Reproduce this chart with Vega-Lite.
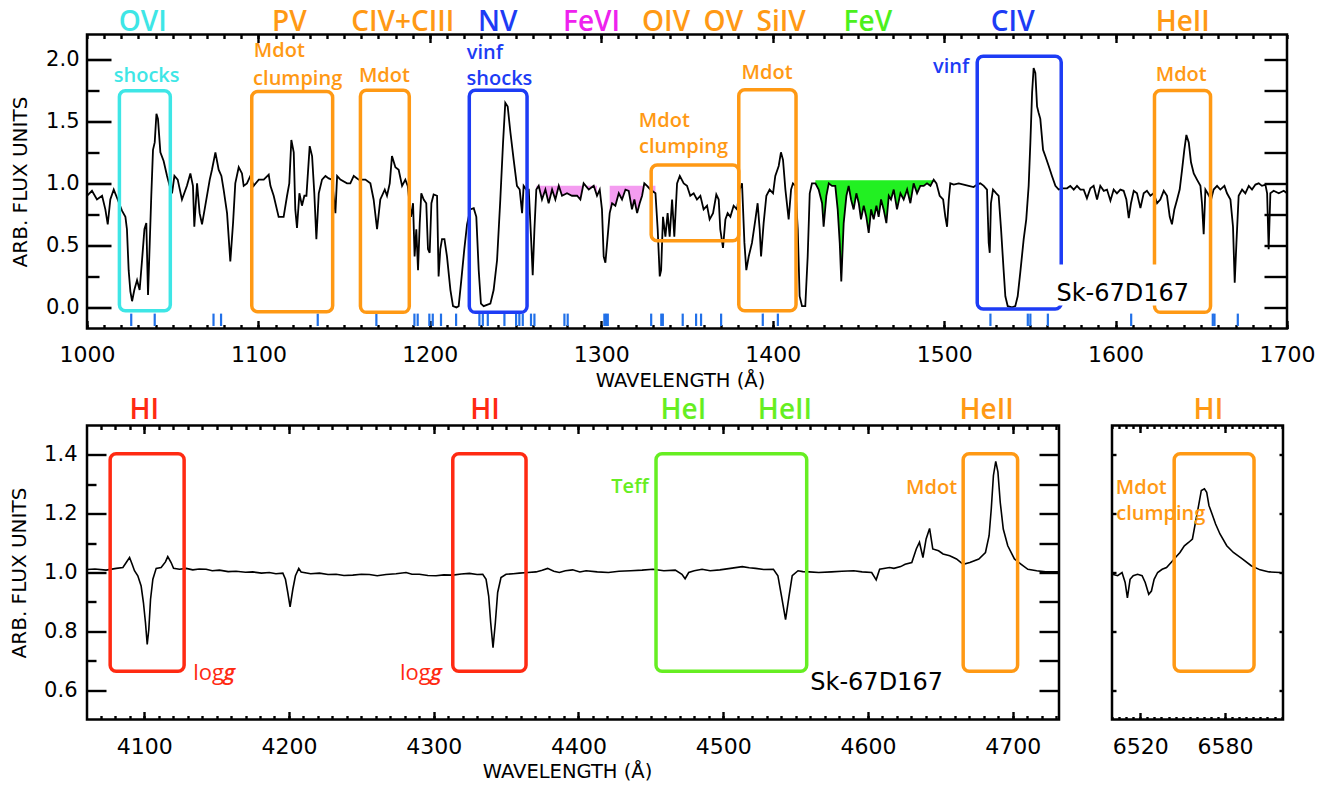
{
"$schema": "https://vega.github.io/schema/vega-lite/v6.json",
"padding": {"left": 7, "top": 7.5, "right": 5, "bottom": 5},
"background": "white",
"config": {
  "view": {"stroke": "black", "strokeWidth": 2.5},
  "axis": {"grid": false, "domain": false, "ticks": true, "tickOpacity": 1, "tickColor": "black", "tickWidth": 2.4, "labelFont": "DejaVu Sans", "labelColor": "black", "titleFont": "DejaVu Sans", "titleColor": "black", "titleFontWeight": "normal", "labelFlush": false, "labelOverlap": false}
},
"datasets": {
  "uv": [
{"w":1000.0,"f":0.90},{"w":1002.9,"f":0.94},{"w":1005.8,"f":0.87},{"w":1008.8,"f":0.90},{"w":1010.7,"f":0.79},{"w":1012.1,"f":0.67},{"w":1013.6,"f":0.87},{"w":1015.6,"f":0.95},{"w":1017.9,"f":0.87},{"w":1020.4,"f":0.78},{"w":1022.4,"f":0.73},{"w":1023.3,"f":0.63},{"w":1024.3,"f":0.30},{"w":1025.3,"f":0.13},{"w":1026.3,"f":0.05},{"w":1027.6,"f":0.14},{"w":1029.2,"f":0.22},{"w":1030.7,"f":0.14},{"w":1032.1,"f":0.38},{"w":1033.5,"f":0.63},{"w":1034.6,"f":0.68},{"w":1035.6,"f":0.10},{"w":1036.6,"f":0.52},{"w":1037.5,"f":0.90},{"w":1038.5,"f":1.27},{"w":1039.5,"f":1.33},{"w":1040.5,"f":1.56},{"w":1041.4,"f":1.52},{"w":1042.8,"f":1.25},{"w":1044.7,"f":1.18},{"w":1046.7,"f":1.06},{"w":1048.2,"f":0.98},{"w":1049.6,"f":0.92},{"w":1051.0,"f":1.06},{"w":1052.9,"f":1.03},{"w":1055.4,"f":0.87},{"w":1058.3,"f":0.98},{"w":1060.3,"f":1.08},{"w":1061.8,"f":0.98},{"w":1062.6,"f":0.65},{"w":1064.2,"f":1.00},{"w":1065.7,"f":0.76},{"w":1067.1,"f":0.67},{"w":1069.0,"f":0.82},{"w":1071.6,"f":1.03},{"w":1072.9,"f":1.11},{"w":1074.9,"f":1.25},{"w":1076.8,"f":1.11},{"w":1078.4,"f":1.06},{"w":1079.7,"f":0.95},{"w":1081.7,"f":0.76},{"w":1083.6,"f":0.37},{"w":1085.2,"f":0.68},{"w":1086.5,"f":1.00},{"w":1088.5,"f":1.13},{"w":1090.4,"f":1.08},{"w":1091.4,"f":0.98},{"w":1093.3,"f":1.00},{"w":1095.3,"f":1.06},{"w":1097.2,"f":0.98},{"w":1100.2,"f":1.03},{"w":1103.1,"f":1.03},{"w":1106.0,"f":1.07},{"w":1107.0,"f":0.98},{"w":1108.9,"f":0.90},{"w":1111.8,"f":0.73},{"w":1114.7,"f":0.73},{"w":1116.7,"f":0.90},{"w":1118.0,"f":1.00},{"w":1119.2,"f":1.35},{"w":1120.6,"f":1.25},{"w":1121.5,"f":0.79},{"w":1122.5,"f":0.64},{"w":1123.9,"f":0.92},{"w":1125.4,"f":0.82},{"w":1126.8,"f":0.90},{"w":1128.0,"f":0.90},{"w":1129.9,"f":1.30},{"w":1131.3,"f":1.22},{"w":1132.6,"f":0.92},{"w":1133.8,"f":0.55},{"w":1135.2,"f":0.92},{"w":1137.1,"f":1.03},{"w":1139.1,"f":1.06},{"w":1141.0,"f":1.04},{"w":1142.9,"f":1.03},{"w":1144.9,"f":0.76},{"w":1145.9,"f":1.06},{"w":1147.8,"f":1.03},{"w":1151.7,"f":1.00},{"w":1153.6,"f":1.00},{"w":1155.6,"f":1.06},{"w":1158.5,"f":1.03},{"w":1162.4,"f":1.03},{"w":1165.3,"f":1.00},{"w":1167.2,"f":0.87},{"w":1169.2,"f":0.63},{"w":1171.1,"f":0.87},{"w":1173.7,"f":0.95},{"w":1175.0,"f":0.90},{"w":1176.6,"f":1.00},{"w":1177.9,"f":1.22},{"w":1179.9,"f":1.13},{"w":1181.8,"f":1.11},{"w":1183.8,"f":0.98},{"w":1185.7,"f":1.03},{"w":1187.1,"f":0.98},{"w":1189.0,"f":0.73},{"w":1190.2,"f":0.84},{"w":1191.1,"f":0.41},{"w":1192.1,"f":0.63},{"w":1193.1,"f":0.30},{"w":1194.1,"f":0.68},{"w":1195.0,"f":0.92},{"w":1196.4,"f":0.87},{"w":1197.9,"f":0.84},{"w":1198.9,"f":0.47},{"w":1199.9,"f":0.44},{"w":1200.9,"f":0.84},{"w":1202.2,"f":0.91},{"w":1204.2,"f":0.90},{"w":1205.1,"f":0.25},{"w":1206.1,"f":0.47},{"w":1207.1,"f":0.55},{"w":1208.5,"f":0.55},{"w":1210.0,"f":0.41},{"w":1212.0,"f":0.14},{"w":1213.5,"f":0.01},{"w":1215.5,"f":0.00},{"w":1216.8,"f":0.01},{"w":1218.2,"f":0.20},{"w":1220.1,"f":0.47},{"w":1221.7,"f":0.67},{"w":1223.6,"f":0.79},{"w":1225.6,"f":0.80},{"w":1227.1,"f":0.73},{"w":1228.5,"f":0.30},{"w":1229.8,"f":0.03},{"w":1231.4,"f":0.01},{"w":1233.3,"f":0.02},{"w":1235.3,"f":0.03},{"w":1237.2,"f":0.14},{"w":1239.2,"f":0.38},{"w":1241.1,"f":0.87},{"w":1242.7,"f":1.33},{"w":1244.0,"f":1.65},{"w":1245.4,"f":1.62},{"w":1247.0,"f":1.41},{"w":1248.9,"f":1.19},{"w":1250.8,"f":0.98},{"w":1252.4,"f":0.95},{"w":1253.8,"f":0.76},{"w":1254.7,"f":0.98},{"w":1256.3,"f":0.95},{"w":1257.7,"f":0.95},{"w":1259.0,"f":0.57},{"w":1260.0,"f":0.26},{"w":1261.0,"f":0.63},{"w":1262.1,"f":0.95},{"w":1263.5,"f":0.98},{"w":1265.4,"f":0.87},{"w":1267.4,"f":0.95},{"w":1269.3,"f":0.84},{"w":1271.3,"f":0.95},{"w":1273.2,"f":0.87},{"w":1275.2,"f":0.98},{"w":1277.1,"f":0.90},{"w":1280.0,"f":0.92},{"w":1282.9,"f":0.90},{"w":1285.9,"f":0.90},{"w":1287.8,"f":0.87},{"w":1289.7,"f":1.00},{"w":1292.7,"f":0.95},{"w":1295.6,"f":0.98},{"w":1297.5,"f":0.90},{"w":1299.1,"f":0.95},{"w":1300.4,"f":0.79},{"w":1301.4,"f":0.41},{"w":1302.4,"f":0.36},{"w":1303.4,"f":0.52},{"w":1304.9,"f":0.76},{"w":1306.3,"f":0.84},{"w":1308.2,"f":0.82},{"w":1310.2,"f":0.92},{"w":1312.1,"f":0.87},{"w":1314.1,"f":0.95},{"w":1316.0,"f":0.94},{"w":1317.9,"f":0.79},{"w":1319.3,"f":0.87},{"w":1320.9,"f":0.76},{"w":1322.4,"f":0.84},{"w":1323.8,"f":0.90},{"w":1325.1,"f":1.00},{"w":1326.7,"f":0.98},{"w":1328.6,"f":0.95},{"w":1331.6,"f":0.92},{"w":1332.9,"f":0.63},{"w":1334.1,"f":0.25},{"w":1334.9,"f":0.30},{"w":1336.0,"f":0.73},{"w":1337.4,"f":0.57},{"w":1338.7,"f":0.76},{"w":1339.9,"f":0.57},{"w":1341.3,"f":0.87},{"w":1342.6,"f":0.57},{"w":1344.2,"f":1.00},{"w":1345.8,"f":1.06},{"w":1348.1,"f":1.00},{"w":1350.0,"f":0.98},{"w":1351.9,"f":0.90},{"w":1353.9,"f":0.92},{"w":1355.8,"f":0.87},{"w":1357.8,"f":0.90},{"w":1359.7,"f":0.79},{"w":1361.7,"f":0.82},{"w":1363.2,"f":0.71},{"w":1365.2,"f":0.76},{"w":1367.1,"f":0.91},{"w":1368.5,"f":0.87},{"w":1369.4,"f":0.63},{"w":1371.0,"f":0.48},{"w":1372.4,"f":0.71},{"w":1373.7,"f":0.76},{"w":1375.3,"f":0.73},{"w":1377.2,"f":0.82},{"w":1379.2,"f":0.79},{"w":1380.7,"f":0.95},{"w":1382.1,"f":1.00},{"w":1383.5,"f":0.52},{"w":1384.6,"f":0.30},{"w":1386.0,"f":0.41},{"w":1387.9,"f":0.52},{"w":1389.9,"f":0.71},{"w":1391.2,"f":0.84},{"w":1392.4,"f":0.63},{"w":1393.2,"f":0.41},{"w":1394.7,"f":0.68},{"w":1396.3,"f":0.90},{"w":1398.2,"f":0.95},{"w":1400.2,"f":0.92},{"w":1401.5,"f":1.06},{"w":1403.5,"f":1.14},{"w":1404.8,"f":1.25},{"w":1406.0,"f":1.19},{"w":1407.4,"f":0.95},{"w":1409.3,"f":0.71},{"w":1410.7,"f":0.95},{"w":1411.8,"f":1.00},{"w":1413.2,"f":0.98},{"w":1414.6,"f":0.63},{"w":1415.7,"f":0.09},{"w":1417.1,"f":0.01},{"w":1419.0,"f":0.01},{"w":1420.4,"f":0.41},{"w":1421.6,"f":0.92},{"w":1422.9,"f":1.00},{"w":1424.9,"f":1.00},{"w":1426.8,"f":0.95},{"w":1428.8,"f":0.84},{"w":1429.7,"f":0.65},{"w":1431.3,"f":0.90},{"w":1432.7,"f":1.00},{"w":1434.6,"f":0.98},{"w":1436.5,"f":0.98},{"w":1437.9,"f":0.79},{"w":1439.1,"f":0.52},{"w":1440.0,"f":0.21},{"w":1441.4,"f":0.68},{"w":1443.0,"f":0.90},{"w":1444.3,"f":0.98},{"w":1445.7,"f":0.87},{"w":1447.2,"f":0.79},{"w":1448.8,"f":0.92},{"w":1450.2,"f":0.84},{"w":1451.5,"f":0.71},{"w":1453.1,"f":0.82},{"w":1454.6,"f":0.73},{"w":1456.0,"f":0.60},{"w":1457.4,"f":0.79},{"w":1458.9,"f":0.71},{"w":1460.5,"f":0.82},{"w":1461.8,"f":0.73},{"w":1463.2,"f":0.87},{"w":1464.7,"f":0.79},{"w":1466.3,"f":0.68},{"w":1467.7,"f":0.90},{"w":1469.0,"f":0.87},{"w":1470.6,"f":0.95},{"w":1472.5,"f":0.79},{"w":1474.5,"f":0.92},{"w":1476.4,"f":0.87},{"w":1478.4,"f":0.95},{"w":1480.3,"f":0.84},{"w":1482.2,"f":1.00},{"w":1484.2,"f":0.92},{"w":1486.1,"f":0.98},{"w":1488.1,"f":0.98},{"w":1490.0,"f":1.00},{"w":1492.0,"f":0.98},{"w":1493.9,"f":1.03},{"w":1495.5,"f":1.00},{"w":1497.4,"f":0.90},{"w":1499.4,"f":0.87},{"w":1500.7,"f":0.73},{"w":1501.7,"f":0.65},{"w":1502.7,"f":0.87},{"w":1503.6,"f":1.00},{"w":1505.6,"f":0.99},{"w":1508.5,"f":1.00},{"w":1511.4,"f":0.99},{"w":1514.3,"f":0.98},{"w":1517.2,"f":0.97},{"w":1519.2,"f":0.99},{"w":1521.1,"f":1.00},{"w":1523.1,"f":0.98},{"w":1525.0,"f":0.95},{"w":1526.0,"f":0.52},{"w":1526.6,"f":0.44},{"w":1527.3,"f":0.84},{"w":1528.5,"f":0.95},{"w":1530.4,"f":0.92},{"w":1531.8,"f":0.90},{"w":1533.2,"f":0.63},{"w":1534.7,"f":0.30},{"w":1535.7,"f":0.09},{"w":1537.1,"f":0.01},{"w":1539.6,"f":0.00},{"w":1541.5,"f":0.01},{"w":1542.9,"f":0.09},{"w":1544.4,"f":0.28},{"w":1546.4,"f":0.55},{"w":1547.9,"f":0.71},{"w":1549.3,"f":0.98},{"w":1550.3,"f":1.33},{"w":1551.3,"f":1.73},{"w":1552.2,"f":1.93},{"w":1553.2,"f":1.89},{"w":1554.2,"f":1.62},{"w":1555.1,"f":1.57},{"w":1556.1,"f":1.52},{"w":1557.7,"f":1.27},{"w":1559.0,"f":1.22},{"w":1561.0,"f":1.14},{"w":1562.9,"f":1.06},{"w":1564.9,"f":0.98},{"w":1566.8,"f":0.95},{"w":1568.8,"f":0.96},{"w":1571.7,"f":0.96},{"w":1573.6,"f":0.98},{"w":1575.6,"f":0.95},{"w":1577.5,"f":0.98},{"w":1579.5,"f":0.95},{"w":1581.4,"f":0.95},{"w":1583.3,"f":0.88},{"w":1585.3,"f":0.96},{"w":1587.2,"f":0.98},{"w":1589.2,"f":0.87},{"w":1591.1,"f":0.98},{"w":1593.1,"f":0.94},{"w":1595.0,"f":0.95},{"w":1597.0,"f":0.86},{"w":1598.9,"f":0.95},{"w":1600.8,"f":0.92},{"w":1602.8,"f":0.95},{"w":1604.7,"f":0.94},{"w":1606.3,"f":0.87},{"w":1607.7,"f":0.72},{"w":1609.0,"f":0.84},{"w":1610.6,"f":0.94},{"w":1612.5,"f":0.92},{"w":1614.5,"f":0.80},{"w":1616.4,"f":0.92},{"w":1618.3,"f":0.94},{"w":1620.3,"f":0.90},{"w":1622.2,"f":0.92},{"w":1624.2,"f":0.84},{"w":1626.1,"f":0.87},{"w":1628.1,"f":0.94},{"w":1630.0,"f":0.90},{"w":1631.6,"f":0.73},{"w":1632.9,"f":0.67},{"w":1634.3,"f":0.79},{"w":1635.9,"f":0.87},{"w":1637.4,"f":0.95},{"w":1638.8,"f":1.11},{"w":1640.1,"f":1.27},{"w":1641.3,"f":1.39},{"w":1642.7,"f":1.33},{"w":1644.0,"f":1.17},{"w":1645.6,"f":1.08},{"w":1647.5,"f":1.03},{"w":1649.5,"f":0.98},{"w":1650.4,"f":0.84},{"w":1651.4,"f":0.59},{"w":1652.4,"f":0.95},{"w":1653.7,"f":0.92},{"w":1655.7,"f":0.87},{"w":1657.2,"f":0.95},{"w":1659.2,"f":0.98},{"w":1661.1,"f":0.95},{"w":1663.5,"f":0.98},{"w":1665.0,"f":0.92},{"w":1667.0,"f":0.87},{"w":1668.5,"f":0.65},{"w":1669.5,"f":0.20},{"w":1670.5,"f":0.52},{"w":1671.8,"f":0.90},{"w":1673.8,"f":0.95},{"w":1675.7,"f":0.92},{"w":1677.7,"f":0.98},{"w":1679.6,"f":0.95},{"w":1681.6,"f":0.99},{"w":1683.5,"f":1.00},{"w":1685.4,"f":0.98},{"w":1687.4,"f":0.99},{"w":1688.4,"f":0.92},{"w":1689.3,"f":0.47},{"w":1690.3,"f":0.92},{"w":1692.2,"f":0.94},{"w":1695.2,"f":0.92},{"w":1698.1,"f":0.94},{"w":1700.0,"f":0.92}
  ],
  "opt": [
{"w":4060.5,"f":1.010},{"w":4066,"f":1.012},{"w":4073.7,"f":1.008},{"w":4080.7,"f":1.014},{"w":4085.3,"f":1.017},{"w":4087.6,"f":1.034},{"w":4089.9,"f":1.051},{"w":4091.7,"f":1.028},{"w":4093.3,"f":1.006},{"w":4095.6,"f":0.989},{"w":4097.9,"f":0.954},{"w":4099.5,"f":0.897},{"w":4100.9,"f":0.829},{"w":4102.1,"f":0.755},{"w":4103.2,"f":0.806},{"w":4104.4,"f":0.909},{"w":4106.0,"f":0.977},{"w":4108.3,"f":1.014},{"w":4111.7,"f":1.017},{"w":4114.7,"f":1.036},{"w":4116.3,"f":1.054},{"w":4118.6,"f":1.034},{"w":4120.3,"f":1.014},{"w":4124.4,"f":1.011},{"w":4129,"f":1.014},{"w":4133.6,"f":1.009},{"w":4138,"f":1.012},{"w":4142.8,"f":1.011},{"w":4147,"f":1.006},{"w":4152.0,"f":1.008},{"w":4158,"f":1.003},{"w":4163.5,"f":1.004},{"w":4170,"f":1.001},{"w":4175.0,"f":1.002},{"w":4181,"f":0.998},{"w":4186.5,"f":1.000},{"w":4191,"f":0.996},{"w":4195.8,"f":0.998},{"w":4197.6,"f":0.977},{"w":4199.2,"f":0.932},{"w":4200.8,"f":0.883},{"w":4202.7,"f":0.943},{"w":4204.5,"f":0.989},{"w":4206.8,"f":1.014},{"w":4208.4,"f":1.002},{"w":4215,"f":0.996},{"w":4221.1,"f":0.998},{"w":4227,"f":0.993},{"w":4232.6,"f":0.994},{"w":4238,"f":0.990},{"w":4244.1,"f":0.991},{"w":4250,"f":0.994},{"w":4255.6,"f":0.993},{"w":4261,"f":0.989},{"w":4267.1,"f":0.993},{"w":4274,"f":0.996},{"w":4280.9,"f":1.000},{"w":4285,"f":0.994},{"w":4290.1,"f":0.994},{"w":4296,"f":0.990},{"w":4301.6,"f":0.989},{"w":4307,"f":0.992},{"w":4313.2,"f":0.991},{"w":4319,"f":0.995},{"w":4324.7,"f":0.997},{"w":4330,"f":0.993},{"w":4333.9,"f":0.994},{"w":4336.2,"f":0.977},{"w":4338.0,"f":0.920},{"w":4339.4,"f":0.829},{"w":4341.0,"f":0.744},{"w":4342.6,"f":0.829},{"w":4344.2,"f":0.932},{"w":4346.5,"f":0.983},{"w":4350.0,"f":0.994},{"w":4355,"f":0.996},{"w":4359.2,"f":0.998},{"w":4365,"f":1.000},{"w":4370.7,"f":1.002},{"w":4375,"f":1.008},{"w":4378.7,"f":1.014},{"w":4383,"f":1.004},{"w":4386.8,"f":1.000},{"w":4391,"f":1.006},{"w":4396.0,"f":1.009},{"w":4401,"f":1.002},{"w":4405.3,"f":1.006},{"w":4413,"f":1.002},{"w":4420.7,"f":1.000},{"w":4428,"f":1.004},{"w":4436.1,"f":1.006},{"w":4444,"f":1.008},{"w":4451.5,"f":1.011},{"w":4459,"f":1.006},{"w":4466.9,"f":1.008},{"w":4471.5,"f":0.994},{"w":4473.7,"f":0.979},{"w":4476.2,"f":1.000},{"w":4480,"f":1.006},{"w":4485.4,"f":1.011},{"w":4491,"f":1.006},{"w":4497.7,"f":1.009},{"w":4505,"f":1.014},{"w":4513.2,"f":1.020},{"w":4518,"f":1.016},{"w":4522.4,"f":1.014},{"w":4528,"f":1.010},{"w":4534.7,"f":1.011},{"w":4537.8,"f":0.989},{"w":4540.3,"f":0.920},{"w":4543.1,"f":0.840},{"w":4545.5,"f":0.920},{"w":4547.7,"f":0.989},{"w":4551.7,"f":1.006},{"w":4555,"f":1.003},{"w":4559.4,"f":1.002},{"w":4566,"f":1.000},{"w":4574.8,"f":1.002},{"w":4582,"f":1.004},{"w":4590.2,"f":1.006},{"w":4596,"f":1.002},{"w":4602.6,"f":1.000},{"w":4605.7,"f":0.975},{"w":4608.1,"f":1.011},{"w":4614.9,"f":1.017},{"w":4618,"f":1.014},{"w":4622.6,"f":1.020},{"w":4625.7,"f":1.028},{"w":4630.3,"f":1.034},{"w":4633.4,"f":1.080},{"w":4635.6,"f":1.103},{"w":4638.0,"f":1.051},{"w":4640.2,"f":1.114},{"w":4642.6,"f":1.150},{"w":4644.8,"f":1.080},{"w":4648.8,"f":1.074},{"w":4651.9,"f":1.063},{"w":4656.5,"f":1.057},{"w":4661.2,"f":1.046},{"w":4665.8,"f":1.028},{"w":4670.4,"f":1.034},{"w":4676.6,"f":1.046},{"w":4681.2,"f":1.068},{"w":4683.7,"f":1.125},{"w":4685.2,"f":1.216},{"w":4686.7,"f":1.330},{"w":4688.3,"f":1.378},{"w":4689.8,"f":1.342},{"w":4691.4,"f":1.239},{"w":4693.5,"f":1.148},{"w":4696.6,"f":1.091},{"w":4701.2,"f":1.046},{"w":4705.9,"f":1.028},{"w":4710.5,"f":1.011},{"w":4716.6,"f":1.006},{"w":4722.8,"f":1.002},{"w":4731.9,"f":1.002}
  ],
  "ha": [
{"w":6500.2,"f":0.994},{"w":6504.0,"f":0.989},{"w":6507.1,"f":1.000},{"w":6509.3,"f":0.966},{"w":6510.9,"f":0.914},{"w":6512.8,"f":0.977},{"w":6515.0,"f":0.989},{"w":6518.1,"f":0.994},{"w":6521.3,"f":0.989},{"w":6523.5,"f":0.966},{"w":6526.0,"f":0.926},{"w":6527.9,"f":0.937},{"w":6529.8,"f":0.977},{"w":6532.3,"f":1.000},{"w":6535.5,"f":1.011},{"w":6538.6,"f":1.017},{"w":6541.8,"f":1.034},{"w":6544.9,"f":1.051},{"w":6548.1,"f":1.068},{"w":6551.2,"f":1.091},{"w":6554.4,"f":1.103},{"w":6556.9,"f":1.114},{"w":6559.1,"f":1.171},{"w":6561.3,"f":1.228},{"w":6563.2,"f":1.279},{"w":6565.4,"f":1.285},{"w":6567.0,"f":1.273},{"w":6568.6,"f":1.228},{"w":6570.8,"f":1.199},{"w":6573.3,"f":1.165},{"w":6576.4,"f":1.131},{"w":6581.2,"f":1.091},{"w":6585.9,"f":1.068},{"w":6592.2,"f":1.046},{"w":6598.5,"f":1.023},{"w":6604.8,"f":1.009},{"w":6611.2,"f":1.002},{"w":6619.0,"f":1.000}
  ],
  "lineIds": [
{"w":1025.8},{"w":1039.5},{"w":1073.8},{"w":1078.2},{"w":1134.6},{"w":1168.8},{"w":1191.0},{"w":1192.9},{"w":1199.7},{"w":1201.7},{"w":1206.5},{"w":1215.3},{"w":1228.9},{"w":1230.9},{"w":1233.8},{"w":1243.5},{"w":1250.3},{"w":1252.2},{"w":1254.2},{"w":1259.0},{"w":1261.0},{"w":1278.5},{"w":1280.4},{"w":1301.8},{"w":1302.8},{"w":1303.8},{"w":1329.1},{"w":1335.0},{"w":1335.9},{"w":1347.5},{"w":1355.3},{"w":1358.2},{"w":1369.9},{"w":1394.2},{"w":1403.0},{"w":1527.0},{"w":1548.8},{"w":1550.3},{"w":1560.5},{"w":1609.1},{"w":1656.7},{"w":1657.7},{"w":1671.3}
  ],
  "boxTop": [
{"w1":1018.9,"w2":1048.6,"f1":-0.027,"f2":1.746,"d":"shocks"},
{"w1":1096.1,"w2":1143.3,"f1":-0.035,"f2":1.74,"d":"mdot"},
{"w1":1159.5,"w2":1188.0,"f1":-0.04,"f2":1.75,"d":"mdot"},
{"w1":1223.0,"w2":1256.7,"f1":-0.04,"f2":1.75,"d":"vinf"},
{"w1":1329.1,"w2":1380.2,"f1":0.538,"f2":1.148,"d":"mdot"},
{"w1":1380.2,"w2":1413.6,"f1":-0.027,"f2":1.755,"d":"mdot"},
{"w1":1519.3,"w2":1568.3,"f1":-0.013,"f2":2.024,"d":"vinf"},
{"w1":1622.7,"w2":1655.4,"f1":-0.04,"f2":1.748,"d":"mdot"}
  ],
  "maskTop": [{"w1":1565.5,"w2":1625.5,"f1":0.015,"f2":0.345}],
  "labTop": [
{"w":1032.5,"f":2.29,"t":"OVI","d":"shocks"},
{"w":1118.0,"f":2.29,"t":"PV","d":"mdot"},
{"w":1184.2,"f":2.29,"t":"CIV+CIII","d":"mdot"},
{"w":1239.6,"f":2.29,"t":"NV","d":"vinf"},
{"w":1294.3,"f":2.29,"t":"FeVI","d":"fe6"},
{"w":1337.8,"f":2.29,"t":"OIV","d":"mdot"},
{"w":1371.2,"f":2.29,"t":"OV","d":"mdot"},
{"w":1404.9,"f":2.29,"t":"SiIV","d":"mdot"},
{"w":1455.5,"f":2.29,"t":"FeV","d":"fe5"},
{"w":1540.0,"f":2.29,"t":"CIV","d":"vinf"},
{"w":1639.2,"f":2.29,"t":"HeII","d":"mdot"}
  ],
  "noteTop": [
{"w":1034.8,"f":1.863,"t":"shocks","d":"shocks"},
{"w":1112.2,"f":2.065,"t":"Mdot","d":"mdot"},
{"w":1122.9,"f":1.845,"t":"clumping","d":"mdot"},
{"w":1173.5,"f":1.863,"t":"Mdot","d":"mdot"},
{"w":1232.1,"f":2.05,"t":"vinf","d":"vinf"},
{"w":1240.6,"f":1.841,"t":"shocks","d":"vinf"},
{"w":1336.8,"f":1.505,"t":"Mdot","d":"mdot"},
{"w":1348.0,"f":1.29,"t":"clumping","d":"mdot"},
{"w":1396.7,"f":1.887,"t":"Mdot","d":"mdot"},
{"w":1504.1,"f":1.94,"t":"vinf","d":"vinf"},
{"w":1638.3,"f":1.873,"t":"Mdot","d":"mdot"}
  ],
  "starTop": [{"w":1604.2,"f":0.107,"t":"Sk-67D167"}],
  "boxBot": [
{"w1":4076.5,"w2":4127.6,"f1":0.664,"f2":1.404,"d":"logg"},
{"w1":4313.2,"w2":4363.8,"f1":0.664,"f2":1.404,"d":"logg"},
{"w1":4453.6,"w2":4557.7,"f1":0.664,"f2":1.404,"d":"teff"},
{"w1":4665.8,"w2":4703.4,"f1":0.664,"f2":1.404,"d":"mdot"}
  ],
  "labBot": [
{"w":4100.0,"f":1.548,"t":"HI","d":"logg"},
{"w":4335.5,"f":1.548,"t":"HI","d":"logg"},
{"w":4472.5,"f":1.548,"t":"HeI","d":"teff"},
{"w":4542.7,"f":1.548,"t":"HeII","d":"teff"},
{"w":4682.0,"f":1.548,"t":"HeII","d":"mdot"}
  ],
  "noteBot": [
{"w":4435.6,"f":1.291,"t":"Teff","d":"teff"},
{"w":4644.0,"f":1.287,"t":"Mdot","d":"mdot"}
  ],
  "logBot": [{"w":4144.5,"f":0.658,"t":"log","d":"logg"},{"w":4287.3,"f":0.658,"t":"log","d":"logg"}],
  "gBot": [{"w":4158.8,"f":0.658,"t":"g","d":"logg"},{"w":4301.6,"f":0.658,"t":"g","d":"logg"}],
  "starBot": [{"w":4606,"f":0.624,"t":"Sk-67D167"}],
  "boxHa": [{"w1":6544.0,"w2":6600.5,"f1":0.664,"f2":1.404,"d":"mdot"}],
  "labHa": [{"w":6568.2,"f":1.548,"t":"HI","d":"mdot"}],
  "noteHa": [{"w":6520.7,"f":1.287,"t":"Mdot","d":"mdot"},{"w":6534.5,"f":1.2,"t":"clumping","d":"mdot"}]
},
"bounds": "flush",
"spacing": 97,
"vconcat": [
{
  "width": 1200, "height": 294,
  "resolve": {"axis": {"x": "independent", "y": "independent"}},
  "layer": [
    {"data": {"name": "uv"}, "transform": [{"filter": "datum.w >= 1262 && datum.w <= 1299"}],
     "mark": {"type": "area", "color": "#f49cf0"},
     "encoding": {
       "x": {"field": "w", "type": "quantitative", "scale": {"domain": [1000, 1700], "nice": false, "zero": false}, "axis": {"orient": "bottom", "tickCount": 70, "labels": false, "tickSize": 4, "offset": -4, "title": null}},
       "y": {"field": "f", "type": "quantitative", "scale": {"domain": [-0.17, 2.2], "nice": false, "zero": false}, "axis": {"orient": "left", "values": [0.25, 0.75, 1.25, 1.75], "labels": false, "tickSize": 12, "offset": -12, "title": null}},
       "y2": {"datum": 0.98}}},
    {"data": {"name": "uv"}, "transform": [{"filter": "datum.w >= 1304 && datum.w <= 1332"}],
     "mark": {"type": "area", "color": "#f49cf0"},
     "encoding": {
       "x": {"field": "w", "type": "quantitative", "axis": {"orient": "top", "values": [1100, 1200, 1300, 1400, 1500, 1600], "labels": false, "tickSize": 8, "offset": -8, "title": null}},
       "y": {"field": "f", "type": "quantitative", "axis": {"orient": "right", "values": [0, 0.25, 0.5, 0.75, 1, 1.25, 1.5, 1.75, 2], "labels": false, "tickSize": 23, "offset": -23, "title": null}},
       "y2": {"datum": 0.98}}},
    {"data": {"name": "uv"}, "transform": [{"filter": "datum.w >= 1423 && datum.w <= 1495"}],
     "mark": {"type": "area", "color": "#22f022"},
     "encoding": {
       "x": {"field": "w", "type": "quantitative", "axis": {"orient": "top", "tickCount": 70, "labels": false, "tickSize": 4, "offset": -4, "title": null}},
       "y": {"field": "f", "type": "quantitative", "axis": null},
       "y2": {"datum": 1.026}}},
    {"data": {"name": "uv"},
     "mark": {"type": "line", "color": "black", "strokeWidth": 1.8},
     "encoding": {
       "x": {"field": "w", "type": "quantitative", "axis": {"orient": "bottom", "values": [1000, 1100, 1200, 1300, 1400, 1500, 1600, 1700], "format": "d", "tickSize": 8, "offset": -8, "labelPadding": 25.7, "labelBaseline": "middle", "labelFontSize": 22, "title": "WAVELENGTH (Å)", "titleFontSize": 19.5, "titleX": 593, "titleY": 60, "titleBaseline": "middle", "titleAlign": "center"}},
       "y": {"field": "f", "type": "quantitative", "axis": {"orient": "left", "values": [0, 0.5, 1, 1.5, 2], "format": ".1f", "tickSize": 24, "offset": -24, "tickWidth": 2.6, "labelPadding": 8, "labelFontSize": 21, "labelBaseline": "middle", "title": "ARB. FLUX UNITS", "titleFontSize": 20, "titleX": -91, "titleY": 147, "titleAngle": -90, "titleBaseline": "middle", "titleAlign": "center"}}}},
    {"data": {"name": "lineIds"},
     "mark": {"type": "rule", "color": "#2170e8", "strokeWidth": 2.2},
     "encoding": {
       "x": {"field": "w", "type": "quantitative", "axis": null},
       "y": {"datum": -0.05, "type": "quantitative", "axis": null}, "y2": {"datum": -0.15}}},
    {"data": {"name": "boxTop"},
     "mark": {"type": "rect", "filled": false, "strokeWidth": 3.5, "cornerRadius": 6},
     "encoding": {
       "x": {"field": "w1", "type": "quantitative", "axis": null}, "x2": {"field": "w2"},
       "y": {"field": "f1", "type": "quantitative", "axis": null}, "y2": {"field": "f2"},
       "color": {"field": "d", "type": "nominal", "legend": null, "scale": {"domain": ["shocks","mdot","vinf","fe6","fe5","logg","teff"], "range": ["#3ee6e6","#ff9914","#1d3cf5","#ee22ee","#4cf01c","#ff2a12","#66ee22"]}}}},
    {"data": {"name": "maskTop"},
     "mark": {"type": "rect", "color": "white"},
     "encoding": {
       "x": {"field": "w1", "type": "quantitative", "axis": null}, "x2": {"field": "w2"},
       "y": {"field": "f1", "type": "quantitative", "axis": null}, "y2": {"field": "f2"}}},
    {"data": {"name": "starTop"},
     "mark": {"type": "text", "font": "DejaVu Sans", "fontSize": 24, "color": "black", "baseline": "middle", "align": "center"},
     "encoding": {
       "x": {"field": "w", "type": "quantitative", "axis": null},
       "y": {"field": "f", "type": "quantitative", "axis": null},
       "text": {"field": "t"}}},
    {"data": {"name": "noteTop"},
     "mark": {"type": "text", "font": "Open Sans", "fontSize": 20, "fontWeight": 600, "baseline": "middle", "align": "center"},
     "encoding": {
       "x": {"field": "w", "type": "quantitative", "axis": null},
       "y": {"field": "f", "type": "quantitative", "axis": null},
       "text": {"field": "t"},
       "color": {"field": "d", "type": "nominal", "legend": null, "scale": {"domain": ["shocks","mdot","vinf","fe6","fe5","logg","teff"], "range": ["#3ee6e6","#ff9914","#1d3cf5","#ee22ee","#4cf01c","#ff2a12","#66ee22"]}}}},
    {"data": {"name": "labTop"},
     "mark": {"type": "text", "font": "Open Sans", "fontSize": 28, "fontWeight": 600, "baseline": "middle", "align": "center"},
     "encoding": {
       "x": {"field": "w", "type": "quantitative", "axis": null},
       "y": {"field": "f", "type": "quantitative", "axis": null},
       "text": {"field": "t"},
       "color": {"field": "d", "type": "nominal", "legend": null, "scale": {"domain": ["shocks","mdot","vinf","fe6","fe5","logg","teff"], "range": ["#3ee6e6","#ff9914","#1d3cf5","#ee22ee","#4cf01c","#ff2a12","#66ee22"]}}}}
  ]
},
{
  "bounds": "flush",
  "spacing": 53,
  "hconcat": [
  {
    "width": 972, "height": 294,
    "resolve": {"axis": {"x": "independent", "y": "independent"}},
    "layer": [
      {"data": {"name": "opt"},
       "mark": {"type": "line", "color": "black", "strokeWidth": 1.6},
       "encoding": {
         "x": {"field": "w", "type": "quantitative", "scale": {"domain": [4060.5, 4732], "nice": false, "zero": false}, "axis": {"orient": "bottom", "values": [4100, 4200, 4300, 4400, 4500, 4600, 4700], "format": "d", "tickSize": 8, "offset": -8, "labelPadding": 26.6, "labelBaseline": "middle", "labelFontSize": 22, "title": "WAVELENGTH (Å)", "titleFontSize": 19.5, "titleX": 480, "titleY": 59.6, "titleBaseline": "middle", "titleAlign": "center"}},
         "y": {"field": "f", "type": "quantitative", "scale": {"domain": [0.5, 1.5], "nice": false, "zero": false}, "axis": {"orient": "left", "values": [0.6, 0.8, 1.0, 1.2, 1.4], "format": ".1f", "tickSize": 19, "offset": -19, "labelPadding": 10, "labelFontSize": 21, "labelBaseline": "middle", "title": "ARB. FLUX UNITS", "titleFontSize": 20, "titleX": -87, "titleY": 147, "titleAngle": -90, "titleBaseline": "middle", "titleAlign": "center"}}}},
      {"data": {"name": "boxBot"},
       "mark": {"type": "rect", "filled": false, "strokeWidth": 3.5, "cornerRadius": 6},
       "encoding": {
         "x": {"field": "w1", "type": "quantitative", "axis": {"orient": "bottom", "tickCount": 67, "labels": false, "tickSize": 4, "offset": -4, "title": null}}, "x2": {"field": "w2"},
         "y": {"field": "f1", "type": "quantitative", "axis": {"orient": "left", "values": [0.7, 0.9, 1.1, 1.3], "labels": false, "tickSize": 9, "offset": -9, "title": null}}, "y2": {"field": "f2"},
         "color": {"field": "d", "type": "nominal", "legend": null, "scale": {"domain": ["shocks","mdot","vinf","fe6","fe5","logg","teff"], "range": ["#3ee6e6","#ff9914","#1d3cf5","#ee22ee","#4cf01c","#ff2a12","#66ee22"]}}}},
      {"data": {"name": "noteBot"},
       "mark": {"type": "text", "font": "Open Sans", "fontSize": 20, "fontWeight": 600, "baseline": "middle", "align": "center"},
       "encoding": {
         "x": {"field": "w", "type": "quantitative", "axis": {"orient": "top", "values": [4100, 4200, 4300, 4400, 4500, 4600, 4700], "labels": false, "tickSize": 8, "offset": -8, "title": null}},
         "y": {"field": "f", "type": "quantitative", "axis": {"orient": "right", "values": [0.6, 0.7, 0.8, 0.9, 1.0, 1.1, 1.2, 1.3, 1.4], "labels": false, "tickSize": 20, "offset": -20, "title": null}},
         "text": {"field": "t"},
         "color": {"field": "d", "type": "nominal", "legend": null, "scale": {"domain": ["shocks","mdot","vinf","fe6","fe5","logg","teff"], "range": ["#3ee6e6","#ff9914","#1d3cf5","#ee22ee","#4cf01c","#ff2a12","#66ee22"]}}}},
      {"data": {"name": "labBot"},
       "mark": {"type": "text", "font": "Open Sans", "fontSize": 28, "fontWeight": 600, "baseline": "middle", "align": "center"},
       "encoding": {
         "x": {"field": "w", "type": "quantitative", "axis": {"orient": "top", "tickCount": 67, "labels": false, "tickSize": 4, "offset": -4, "title": null}},
         "y": {"field": "f", "type": "quantitative", "axis": null},
         "text": {"field": "t"},
         "color": {"field": "d", "type": "nominal", "legend": null, "scale": {"domain": ["shocks","mdot","vinf","fe6","fe5","logg","teff"], "range": ["#3ee6e6","#ff9914","#1d3cf5","#ee22ee","#4cf01c","#ff2a12","#66ee22"]}}}},
      {"data": {"name": "logBot"},
       "mark": {"type": "text", "font": "Open Sans", "fontSize": 22, "fontWeight": 500, "baseline": "middle", "align": "center", "color": "#ff2a12"},
       "encoding": {
         "x": {"field": "w", "type": "quantitative", "axis": null},
         "y": {"field": "f", "type": "quantitative", "axis": null},
         "text": {"field": "t"}}},
      {"data": {"name": "gBot"},
       "mark": {"type": "text", "font": "Open Sans", "fontSize": 22, "fontWeight": 600, "fontStyle": "italic", "baseline": "middle", "align": "center", "color": "#ff2a12"},
       "encoding": {
         "x": {"field": "w", "type": "quantitative", "axis": null},
         "y": {"field": "f", "type": "quantitative", "axis": null},
         "text": {"field": "t"}}},
      {"data": {"name": "starBot"},
       "mark": {"type": "text", "font": "DejaVu Sans", "fontSize": 24, "color": "black", "baseline": "middle", "align": "center"},
       "encoding": {
         "x": {"field": "w", "type": "quantitative", "axis": null},
         "y": {"field": "f", "type": "quantitative", "axis": null},
         "text": {"field": "t"}}}
    ]
  },
  {
    "width": 171, "height": 294,
    "resolve": {"axis": {"x": "independent", "y": "independent"}},
    "layer": [
      {"data": {"name": "ha"},
       "mark": {"type": "line", "color": "black", "strokeWidth": 1.6},
       "encoding": {
         "x": {"field": "w", "type": "quantitative", "scale": {"domain": [6500, 6621], "nice": false, "zero": false}, "axis": {"orient": "bottom", "values": [6520, 6580], "format": "d", "tickSize": 7, "offset": -7, "labelPadding": 26.6, "labelBaseline": "middle", "labelFontSize": 22, "title": null}},
         "y": {"field": "f", "type": "quantitative", "scale": {"domain": [0.5, 1.5], "nice": false, "zero": false}, "axis": {"orient": "left", "values": [0.6, 0.8, 1.0, 1.2, 1.4], "labels": false, "tickSize": 4, "offset": -4, "title": null}}}},
      {"data": {"name": "boxHa"},
       "mark": {"type": "rect", "filled": false, "strokeWidth": 3.5, "cornerRadius": 6},
       "encoding": {
         "x": {"field": "w1", "type": "quantitative", "axis": {"orient": "bottom", "tickCount": 24, "labels": false, "tickSize": 3, "offset": -3, "title": null}}, "x2": {"field": "w2"},
         "y": {"field": "f1", "type": "quantitative", "axis": {"orient": "right", "values": [0.6, 0.8, 1.0, 1.2, 1.4], "labels": false, "tickSize": 4, "offset": -4, "title": null}}, "y2": {"field": "f2"},
         "color": {"field": "d", "type": "nominal", "legend": null, "scale": {"domain": ["shocks","mdot","vinf","fe6","fe5","logg","teff"], "range": ["#3ee6e6","#ff9914","#1d3cf5","#ee22ee","#4cf01c","#ff2a12","#66ee22"]}}}},
      {"data": {"name": "noteHa"},
       "mark": {"type": "text", "font": "Open Sans", "fontSize": 20, "fontWeight": 600, "baseline": "middle", "align": "center"},
       "encoding": {
         "x": {"field": "w", "type": "quantitative", "axis": {"orient": "top", "values": [6520, 6580], "labels": false, "tickSize": 7, "offset": -7, "title": null}},
         "y": {"field": "f", "type": "quantitative", "axis": null},
         "text": {"field": "t"},
         "color": {"field": "d", "type": "nominal", "legend": null, "scale": {"domain": ["shocks","mdot","vinf","fe6","fe5","logg","teff"], "range": ["#3ee6e6","#ff9914","#1d3cf5","#ee22ee","#4cf01c","#ff2a12","#66ee22"]}}}},
      {"data": {"name": "labHa"},
       "mark": {"type": "text", "font": "Open Sans", "fontSize": 28, "fontWeight": 600, "baseline": "middle", "align": "center"},
       "encoding": {
         "x": {"field": "w", "type": "quantitative", "axis": {"orient": "top", "tickCount": 24, "labels": false, "tickSize": 3, "offset": -3, "title": null}},
         "y": {"field": "f", "type": "quantitative", "axis": null},
         "text": {"field": "t"},
         "color": {"field": "d", "type": "nominal", "legend": null, "scale": {"domain": ["shocks","mdot","vinf","fe6","fe5","logg","teff"], "range": ["#3ee6e6","#ff9914","#1d3cf5","#ee22ee","#4cf01c","#ff2a12","#66ee22"]}}}}
    ]
  }
  ]
}
]
}
